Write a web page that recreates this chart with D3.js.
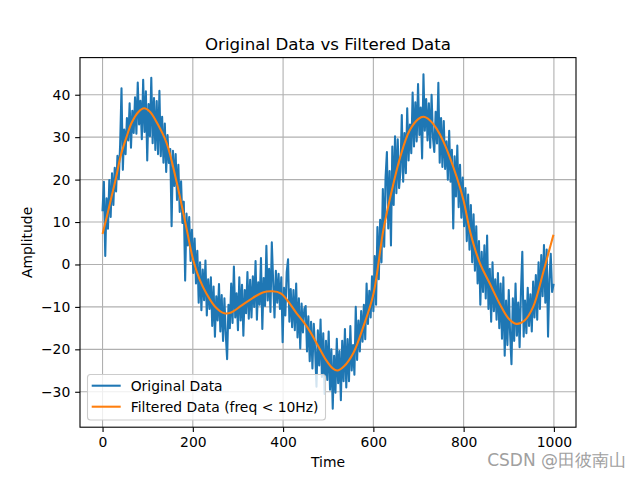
<!DOCTYPE html>
<html>
<head>
<meta charset="utf-8">
<script src="https://cdn.jsdelivr.net/npm/d3@7"></script>
<style>
  html, body { margin: 0; padding: 0; background: #fff; }
  svg { display: block; }
  text { font-family: "DejaVu Sans", sans-serif; fill: #000; }
</style>
</head>
<body>
<svg id="chart" width="640" height="480"></svg>
<script>
// ---- Data ----
const title = "Original Data vs Filtered Data";
const xLabel = "Time";
const yLabel = "Amplitude";
const seriesNames = ["Original Data", "Filtered Data (freq < 10Hz)"];
const xTicks = [0, 200, 400, 600, 800, 1000];
const yTicks = [-30, -20, -10, 0, 10, 20, 30, 40];

// original (noisy) data, sampled every 3 time units from 0 to 999
const originalTime = d3.range(0, 1000, 3);
const originalValues = [
  12.8, 19.5, 2.0, 15.6, 8.4, 19.9, 11.2, 21.5, 14.0, 22.8,
  17.2, 25.6, 20.1, 28.4, 41.5, 22.3, 31.8, 26.0, 34.5, 29.2,
  38.0, 27.5, 36.2, 31.0, 39.4, 30.8, 42.9, 33.0, 38.6, 29.5,
  43.5, 31.2, 40.8, 24.5, 37.8, 30.2, 44.0, 28.6, 39.2, 27.0,
  38.5, 26.0, 40.9, 25.5, 34.8, 24.0, 33.2, 21.8, 30.5, 23.9,
  27.2, 9.0, 26.8, 18.5, 26.0, 15.2, 23.5, 12.4, 19.6, 9.8,
  14.8, -3.8, 12.0, 4.5, 11.2, 0.8, 8.2, -2.0, 6.1, -4.5,
  3.2, -9.0, 0.5, -10.8, -1.2, -8.4, 0.9, -12.0, -3.5, -10.5,
  -3.0, -14.5, -5.2, -17.0, -7.5, -13.2, -4.6, -15.8, -7.2, -18.0,
  -8.0, -16.5, -22.3, -9.5, -15.0, -4.5, -13.8, -0.5, -12.5, -6.8,
  -15.5, -3.0, -13.2, -4.8, -16.8, -6.0, -11.5, -1.8, -12.8, -3.6,
  -12.5, -2.8, -10.0, 0.8, -13.0, -4.2, -9.5, 1.5, -15.2, -3.2,
  -9.8, 4.4, -8.5, -1.0, -11.2, 5.2, -4.0, -12.5, -1.5, -9.0,
  -2.2, -10.5, -3.0, -18.3, -5.5, -12.0, -1.8, 1.2, -13.5, -5.8,
  -14.8, -6.0, -15.5, -4.5, -17.2, -8.0, -19.8, -9.2, -16.0, -10.5,
  -9.8, -20.5, -12.2, -22.8, -13.5, -24.5, -14.0, -20.2, -28.8, -15.5,
  -23.8, -13.0, -26.5, -16.2, -30.5, -18.0, -27.2, -15.8, -29.5, -20.0,
  -34.0, -21.5, -30.2, -17.5, -28.0, -20.4, -32.0, -18.0, -27.5, -15.2,
  -29.0, -17.6, -27.5, -14.5, -25.0, -19.0, -26.0, -10.0, -22.5, -13.2,
  -20.5, -11.0, -18.2, -9.5, -17.6, -4.5, -14.0, -6.2, -12.5, -2.8,
  -11.0, 2.0, -9.5, 8.8, -3.5, 10.5, 0.5, 17.8, 4.2, 20.5,
  26.5, 8.5, 22.0, 4.5, 27.8, 14.0, 30.2, 16.8, 29.5, 18.0,
  22.0, 35.2, 19.5, 31.0, 21.5, 36.8, 24.5, 33.0, 26.2, 40.5,
  27.8, 38.2, 29.0, 42.5, 30.5, 37.0, 25.0, 44.8, 31.5, 39.0,
  29.2, 38.0, 27.5, 40.0, 30.0, 26.5, 36.0, 28.5, 42.8, 24.0,
  34.5, 23.0, 33.8, 22.5, 29.0, 20.0, 31.5, 19.5, 27.0, 8.5,
  25.5, 16.0, 28.0, 13.5, 23.5, 11.0, 20.5, 9.0, 18.0, 5.5,
  16.5, 3.5, 14.0, 0.5, 11.8, -1.5, 9.0, -4.5, 5.5, -9.5,
  3.0, -6.5, 4.5, -8.0, 6.8, -10.5, -1.0, -13.5, 0.5, -11.0,
  -3.5, -13.0, -2.0, -15.0, -4.5, -17.5, -3.0, -21.5, -8.5, -19.0,
  -6.0, -16.5, -23.5, -8.0, -18.0, -4.5, -16.8, -9.0, -19.5, -6.5,
  3.0, -17.0, -8.5, -16.2, -5.5, -14.5, -7.0, -15.8, -4.0, -12.5,
  -2.5, -13.0, 0.5, -10.5, 2.2, -7.5, 4.6, -9.0, 3.5, -17.0,
  -3.5, 2.5, -6.5, -4.8
];

// filtered (smooth) curve, read at selected times
const filteredTime = [0, 10, 20, 30, 40, 53, 65, 80, 92, 105, 120, 142, 164, 186, 201, 215, 231, 250, 270, 285,
  305, 334, 355, 375, 395, 430, 455, 474, 495, 510, 520, 535, 556, 578, 600, 622, 640, 660, 680, 700,
  711, 725, 740, 755, 785, 800, 815, 836, 858, 881, 900, 917, 935, 954, 976, 990, 999];
const filteredValues = [7.2, 11.5, 16, 20.5, 25.5, 30, 33.5, 36, 36.8, 36, 33.5, 28.6, 19.5, 8.5, 1, -3.5, -7, -10, -11.5, -11.3,
  -9.9, -7.8, -6.6, -6.3, -6.8, -11.5, -15, -18.5, -22.5, -24.5, -25, -24, -20.8, -14.6, -7, 8, 17, 25.5, 31.5, 34.3,
  34.8, 34, 32, 29, 20.5, 15, 7.5, 0.3, -4.5, -9.5, -12.8, -14, -13.2, -10, -2, 3.5, 7];

// ---- Layout ----
const svg = d3.select("#chart");
const W = 640, H = 480;
const m = { left: 80, right: 64, top: 57.6, bottom: 52.8 };
const pw = W - m.left - m.right, ph = H - m.top - m.bottom;
const fs = 13.9;

const x = d3.scaleLinear().domain([-49.95, 1048.95]).range([m.left, m.left + pw]);
const y = d3.scaleLinear().domain([-38.35, 48.75]).range([m.top + ph, m.top]);

svg.append("rect").attr("width", W).attr("height", H).attr("fill", "#fff");

const gridG = svg.append("g");
gridG.selectAll(".gx").data(xTicks).join("line")
  .attr("x1", d => x(d)).attr("x2", d => x(d))
  .attr("y1", m.top).attr("y2", m.top + ph)
  .attr("stroke", "#b0b0b0").attr("stroke-width", 1.1);
gridG.selectAll(".gy").data(yTicks).join("line")
  .attr("x1", m.left).attr("x2", m.left + pw)
  .attr("y1", d => y(d)).attr("y2", d => y(d))
  .attr("stroke", "#b0b0b0").attr("stroke-width", 1.1);

const clip = svg.append("clipPath").attr("id", "clip").append("rect")
  .attr("x", m.left).attr("y", m.top).attr("width", pw).attr("height", ph);

const plot = svg.append("g").attr("clip-path", "url(#clip)");
const origData = originalValues.map((v, i) => [originalTime[i], v]);
const filtData = filteredValues.map((v, i) => [filteredTime[i], v]);

plot.append("path").datum(origData)
  .attr("fill", "none").attr("stroke", "#1f77b4").attr("stroke-width", 2.08)
  .attr("stroke-linejoin", "round").attr("stroke-linecap", "square")
  .attr("d", d3.line().x(d => x(d[0])).y(d => y(d[1])));
plot.append("path").datum(filtData)
  .attr("fill", "none").attr("stroke", "#ff7f0e").attr("stroke-width", 2.08)
  .attr("stroke-linejoin", "round")
  .attr("d", d3.line().curve(d3.curveCatmullRom.alpha(0.5)).x(d => x(d[0])).y(d => y(d[1])));

// Axes
const xAxis = d3.axisBottom(x).tickValues(xTicks).tickFormat(d3.format("d")).tickSizeInner(4.86).tickSizeOuter(0).tickPadding(4.86);
const yAxis = d3.axisLeft(y).tickValues(yTicks).tickFormat(d => d < 0 ? "\u2212" + Math.abs(d) : d).tickSizeInner(4.86).tickSizeOuter(0).tickPadding(4.86);
const gx = svg.append("g").attr("transform", `translate(0,${m.top + ph})`).call(xAxis);
const gy = svg.append("g").attr("transform", `translate(${m.left},0)`).call(yAxis);
[gx, gy].forEach(g => {
  g.select(".domain").remove();
  g.selectAll("line").attr("stroke", "#000").attr("stroke-width", 1.1);
  g.selectAll("text").attr("font-size", fs).attr("font-family", "DejaVu Sans").attr("fill", "#000");
});

// Spines
svg.append("rect").attr("x", m.left).attr("y", m.top).attr("width", pw).attr("height", ph)
  .attr("fill", "none").attr("stroke", "#000").attr("stroke-width", 1.1);

// Title and labels
svg.append("text").attr("x", m.left + pw / 2).attr("y", 49.5).attr("text-anchor", "middle")
  .attr("font-size", 16.67).text(title);
svg.append("text").attr("x", m.left + pw / 2).attr("y", 467).attr("text-anchor", "middle")
  .attr("font-size", fs).text(xLabel);
svg.append("text").attr("transform", `translate(32,${m.top + ph / 2}) rotate(-90)`).attr("text-anchor", "middle")
  .attr("font-size", fs).text(yLabel);

// Legend
const lg = svg.append("g");
lg.append("rect").attr("x", 87.5).attr("y", 374.5).attr("width", 238).attr("height", 45.5)
  .attr("rx", 3).attr("fill", "#fff").attr("fill-opacity", 0.8)
  .attr("stroke", "#cccccc").attr("stroke-width", 1.1);
const legendColors = ["#1f77b4", "#ff7f0e"];
seriesNames.forEach((name, i) => {
  const cy = 385.7 + i * 21;
  lg.append("line").attr("x1", 91.7).attr("x2", 120.7).attr("y1", cy).attr("y2", cy)
    .attr("stroke", legendColors[i]).attr("stroke-width", 2.08);
  lg.append("text").attr("x", 130.7).attr("y", cy).attr("dy", "0.36em")
    .attr("font-size", fs).text(name);
});

// Watermark
svg.append("text").attr("x", 626).attr("y", 466).attr("text-anchor", "end")
  .attr("font-family", "'Noto Sans CJK SC', sans-serif").attr("font-size", 17)
  .style("fill", "#a0a0a0").text("CSDN @田彼南山");
</script>
</body>
</html>
